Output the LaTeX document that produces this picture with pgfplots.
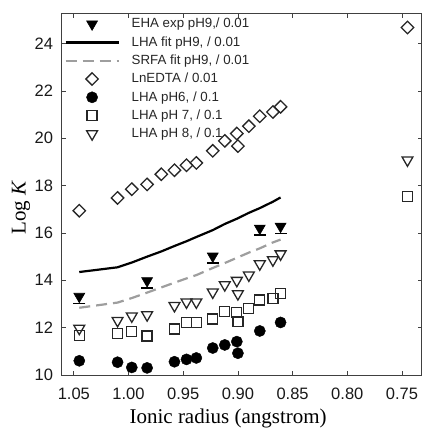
\documentclass[border=0pt]{standalone}
\usepackage{fontspec}
\setmainfont{Liberation Serif}
\setsansfont{Liberation Sans}
\usepackage{pgfplots}
\pgfplotsset{compat=1.18}
\pgfplotsset{
  mk/.style={only marks, legend image code/.code={\draw[##1] plot[only marks] coordinates {(26.5pt,0pt)};}},
  ln/.style={legend image code/.code={\draw[##1] (0pt,0pt) -- (53pt,0pt);}},
}
\begin{document}
\begin{tikzpicture}
\begin{axis}[
  at={(0,0)}, anchor=south west,
  scale only axis, width=359.7pt, height=361pt,
  x dir=reverse, xmin=0.732, xmax=1.0608, ymin=10, ymax=25.25,
  xtick={0.75,0.8,0.85,0.9,0.95,1.0,1.05},
  xticklabels={0.75,0.80,0.85,0.90,0.95,1.00,1.05},
  ytick={10,12,14,16,18,20,22,24},
  tick align=inside, major tick length=4pt,
  tick style={black!75, line width=0.8pt},
  axis line style={black!75, line width=1pt},
  /pgf/number format/assume math mode=true,
  ticklabel style={font=\sffamily\fontsize{16.5}{16.5}\selectfont, text=black!90, inner sep=0pt},
  xticklabel style={yshift=-13pt},
  yticklabel style={xshift=-8.7pt},
  xlabel={Ionic radius (angstrom)},
  ylabel={Log \textit{K}},
  label style={font=\fontsize{21}{21}\selectfont},
  xlabel style={at={(axis description cs:0.462,-0.12)}, anchor=center},
  ylabel style={at={(axis description cs:-0.114,0.464)}, anchor=center},
  legend cell align=left,
  legend style={at={(axis description cs:0.0064,0.99)}, anchor=north west,
    draw=none, fill=none, inner xsep=0pt, inner ysep=0pt,
    font=\sffamily\fontsize{13.3}{13.3}\selectfont, text=black!85,
    row sep=5.8pt, column sep=12pt,
    nodes={inner sep=0pt, text height=10pt, text depth=2.5pt}},
]
% EHA exp pH9
\addplot[mk, mark=triangle*, mark size=6.3pt, mark options={rotate=180, fill=black, draw=black, line width=0.6pt}]
  coordinates {(1.045,13.32) (0.983,13.98) (0.923,15.02) (0.880,16.20) (0.861,16.28)};
\addlegendentry{EHA exp pH9,/ 0.01}
% LHA fit pH9
\addplot[ln, black, line width=2.2pt, no marks]
  coordinates {(1.045,14.35) (1.010,14.55) (0.997,14.75) (0.983,15.00) (0.970,15.22) (0.958,15.45) (0.947,15.65) (0.938,15.83) (0.923,16.12) (0.912,16.38) (0.901,16.60) (0.890,16.85) (0.880,17.05) (0.868,17.32) (0.861,17.50)};
\addlegendentry{LHA fit pH9, / 0.01}
% SRFA fit pH9
\addplot[ln, color=black!38, line width=2.2pt, dash pattern=on 11pt off 6pt, no marks]
  coordinates {(1.045,12.84) (1.010,13.06) (0.997,13.25) (0.983,13.48) (0.970,13.70) (0.958,13.90) (0.947,14.08) (0.938,14.22) (0.923,14.52) (0.912,14.73) (0.901,14.95) (0.890,15.17) (0.880,15.35) (0.868,15.60) (0.861,15.72)};
\addlegendentry{SRFA fit pH9, / 0.01}
% LnEDTA
\addplot[mk, mark=square, mark size=4.4pt, mark options={rotate=45, draw=black!85, line width=1.3pt, fill=white}]
  coordinates {(1.045,16.94) (1.010,17.48) (0.997,17.85) (0.983,18.05) (0.970,18.48) (0.958,18.65) (0.947,18.86) (0.938,18.96) (0.923,19.47) (0.912,19.89) (0.901,20.20) (0.900,19.67) (0.890,20.51) (0.880,20.93) (0.868,21.11) (0.861,21.33) (0.745,24.68)};
\addlegendentry{LnEDTA / 0.01}
% LHA pH6
\addplot[mk, mark=*, mark size=5.6pt, mark options={fill=black, draw=black}]
  coordinates {(1.045,10.60) (1.010,10.54) (0.997,10.32) (0.983,10.30) (0.958,10.56) (0.947,10.66) (0.938,10.72) (0.923,11.14) (0.912,11.27) (0.901,11.41) (0.900,10.92) (0.880,11.86) (0.861,12.22)};
\addlegendentry{LHA pH6, / 0.1}
% LHA pH 7
\addplot[mk, mark=square, mark size=5pt, mark options={draw=black!85, line width=1.3pt, fill=white}]
  coordinates {(1.045,11.67) (1.010,11.76) (0.997,11.83) (0.983,11.65) (0.958,11.94) (0.947,12.21) (0.938,12.21) (0.923,12.36) (0.912,12.67) (0.901,12.63) (0.900,12.25) (0.890,12.81) (0.880,13.17) (0.868,13.24) (0.861,13.45) (0.745,17.53)};
\addlegendentry{LHA pH 7, / 0.1}
% LHA pH 8
\addplot[mk, mark=triangle, mark size=6.3pt, mark options={rotate=180, draw=black!85, line width=1.3pt, fill=white}]
  coordinates {(1.045,11.97) (1.010,12.30) (0.997,12.49) (0.983,12.54) (0.958,12.93) (0.947,13.08) (0.938,13.08) (0.923,13.50) (0.912,13.81) (0.901,13.99) (0.900,13.43) (0.890,14.22) (0.880,14.69) (0.868,14.86) (0.861,15.11) (0.745,19.08)};
\addlegendentry{LHA pH 8, / 0.1}
% base bar under the filled triangles
\addplot[forget plot, only marks, mark=-, mark size=6pt, mark options={yshift=-7pt, draw=black, line width=1.6pt}]
  coordinates {(1.045,13.32) (0.983,13.98) (0.923,15.02) (0.880,16.20) (0.861,16.28)};
\end{axis}
\pgfresetboundingbox
\path[use as bounding box] (-62pt,-54pt) rectangle (361.3pt,375pt);
\end{tikzpicture}
\end{document}
